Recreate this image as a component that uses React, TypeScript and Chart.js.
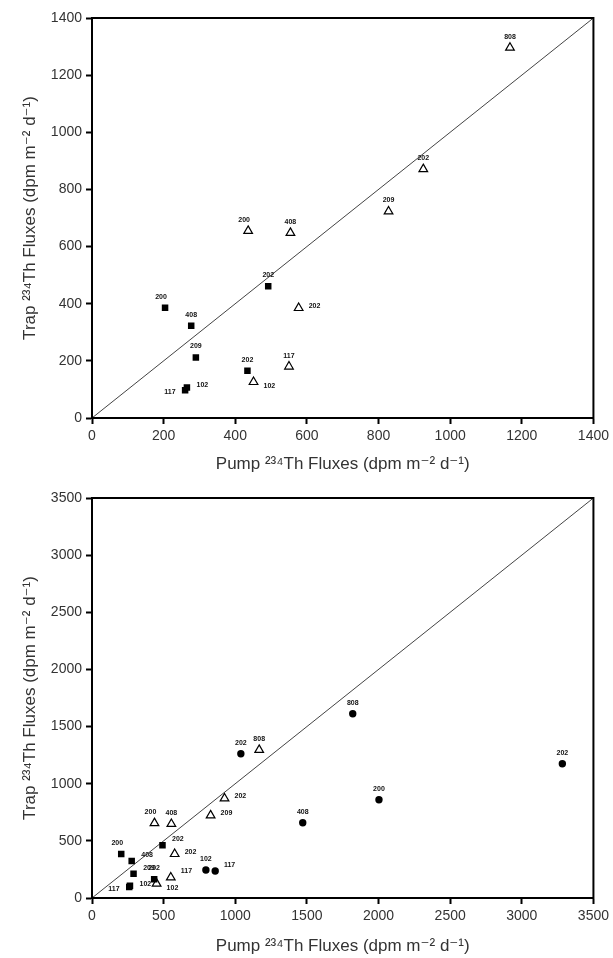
import React, { useEffect, useRef } from "react";
import { Chart, registerables } from "chart.js";
Chart.register(...registerables);

// Pump vs trap 234Th fluxes (dpm m-2 d-1)
const squarePump = [204, 277, 290, 265, 260, 492, 434];
const squareTrap = [386, 323, 212, 107, 97, 461, 165];
const squareLabels = ["200", "408", "209", "102", "117", "202", "202"];

const trianglePump = [436, 554, 577, 550, 451, 1167, 925, 828];
const triangleTrap = [655, 648, 385, 180, 126, 1296, 871, 723];
const triangleLabels = ["200", "408", "202", "117", "102", "808", "202", "209"];

const circlePump = [1039, 1820, 1471, 2003, 3283, 795, 860];
const circleTrap = [1262, 1612, 659, 860, 1175, 245, 236];
const circleLabels = ["202", "808", "408", "200", "202", "102", "117"];

const topMax = 1400;
const topStep = 200;
const bottomMax = 3500;
const bottomStep = 500;

// label anchor codes
const topSquarePos = ["TL", "T", "T", "R", "L", "T", "T"];
const topTrianglePos = ["TL", "T", "R", "T", "BR", "T", "T", "T"];
const bottomSquarePos = ["TL", "TR", "TR", "R", "L", "TR", "T"];
const bottomTrianglePos = ["TL", "T", "R", "TR", "BR", "T", "R", "R"];
const bottomCirclePos = ["T", "T", "T", "T", "T", "T", "TR"];

const xTitle = "Pump ²³⁴Th Fluxes (dpm m⁻² d⁻¹)";
const yTitle = "Trap ²³⁴Th Fluxes (dpm m⁻² d⁻¹)";

const FONT = "'Liberation Sans', Arial, 'DejaVu Sans', sans-serif";

const OFFS: Record<string, [number, number, CanvasTextAlign]> = {
  T: [0, -11, "center"],
  TL: [-4, -11, "center"],
  TR: [5, -6, "left"],
  R: [5, -2, "left"],
  L: [-5, 2, "right"],
  BR: [5, 4, "left"],
};

const framePlugin = {
  id: "frame",
  afterDraw(chart: any) {
    const { ctx, chartArea: a } = chart;
    ctx.save();
    ctx.strokeStyle = "#000";
    ctx.lineWidth = 2;
    ctx.strokeRect(a.left, a.top, a.right - a.left, a.bottom - a.top);
    ctx.restore();
  },
};

const labelPlugin = {
  id: "ptlabels",
  afterDatasetsDraw(chart: any) {
    const { ctx } = chart;
    ctx.save();
    ctx.fillStyle = "#111";
    ctx.font = `bold 7px ${FONT}`;
    ctx.textBaseline = "middle";
    chart.data.datasets.forEach((ds: any, i: number) => {
      if (!ds.ptLabels) return;
      const meta = chart.getDatasetMeta(i);
      meta.data.forEach((el: any, j: number) => {
        const o = OFFS[ds.ptPos[j]] || OFFS.T;
        const r = ds.pointRadius;
        let dx = o[0];
        if (o[2] === "left") dx += r;
        if (o[2] === "right") dx -= r;
        ctx.textAlign = o[2];
        ctx.fillText(ds.ptLabels[j], el.x + dx, el.y + o[1]);
      });
    });
    ctx.restore();
  },
};

function pts(xs: number[], ys: number[]) {
  return xs.map((x, i) => ({ x, y: ys[i] }));
}

const plain = (v: any) => String(v);

function makeConfig(max: number, step: number, height: number, datasets: any[], xTitlePad: number) {
  return {
    type: "scatter",
    data: {
      datasets: [
        ...datasets,
        {
          data: [
            { x: 0, y: 0 },
            { x: max, y: max },
          ],
          showLine: true,
          borderColor: "#444",
          borderWidth: 1,
          pointRadius: 0,
        },
      ],
    },
    options: {
      responsive: false,
      animation: false,
      events: [],
      layout: { padding: { top: 18, right: 19, left: 0, bottom: 0 } },
      plugins: { legend: { display: false }, tooltip: { enabled: false } },
      scales: {
        x: {
          type: "linear",
          min: 0,
          max,
          afterFit: (s: any) => {
            s.height = height - 418;
          },
          ticks: {
            stepSize: step,
            maxRotation: 0,
            autoSkip: false,
            padding: 4,
            color: "#333",
            font: { family: FONT, size: 14 },
            callback: plain,
          },
          grid: {
            drawOnChartArea: false,
            drawTicks: true,
            tickLength: 6,
            tickWidth: 2,
            color: "#000",
          },
          border: { display: true, width: 2, color: "#000" },
          title: {
            display: true,
            text: xTitle,
            color: "#333",
            font: { family: FONT, size: 17 },
            padding: { top: 0, bottom: xTitlePad },
          },
        },
        y: {
          type: "linear",
          min: 0,
          max,
          afterFit: (s: any) => {
            s.width = 92;
          },
          ticks: {
            stepSize: step,
            autoSkip: false,
            padding: 4,
            color: "#333",
            font: { family: FONT, size: 14 },
            callback: plain,
          },
          grid: {
            drawOnChartArea: false,
            drawTicks: true,
            tickLength: 6,
            tickWidth: 2,
            color: "#000",
          },
          border: { display: true, width: 2, color: "#000" },
          title: {
            display: true,
            text: yTitle,
            color: "#333",
            font: { family: FONT, size: 17 },
            padding: { top: 20, bottom: 0 },
          },
        },
      },
    },
    plugins: [framePlugin, labelPlugin],
  };
}

function squareSet(pos: string[]) {
  return {
    data: pts(squarePump, squareTrap),
    pointStyle: "rect",
    pointRadius: 4.6,
    backgroundColor: "#000",
    borderColor: "#000",
    borderWidth: 0,
    ptLabels: squareLabels,
    ptPos: pos,
  };
}
function triangleSet(pos: string[]) {
  return {
    data: pts(trianglePump, triangleTrap),
    pointStyle: "triangle",
    pointRadius: 5,
    backgroundColor: "#fff",
    borderColor: "#000",
    borderWidth: 1.2,
    ptLabels: triangleLabels,
    ptPos: pos,
  };
}
function circleSet(pos: string[]) {
  return {
    data: pts(circlePump, circleTrap),
    pointStyle: "circle",
    pointRadius: 3.7,
    backgroundColor: "#000",
    borderColor: "#000",
    borderWidth: 0,
    ptLabels: circleLabels,
    ptPos: pos,
  };
}

function Panel({ config, height, top }: { config: any; height: number; top: number }) {
  const ref = useRef<HTMLCanvasElement>(null);
  useEffect(() => {
    if (!ref.current) return;
    const c = new Chart(ref.current, config);
    return () => c.destroy();
  }, []);
  return (
    <canvas
      ref={ref}
      width={613}
      height={height}
      style={{ position: "absolute", left: 0, top, width: 613, height, display: "block" }}
    />
  );
}

export default function App() {
  const topCfg = makeConfig(topMax, topStep, 480, [squareSet(topSquarePos), triangleSet(topTrianglePos)], 5);
  const botCfg = makeConfig(
    bottomMax,
    bottomStep,
    478,
    [circleSet(bottomCirclePos), squareSet(bottomSquarePos), triangleSet(bottomTrianglePos)],
    1
  );
  return (
    <div
      style={{
        position: "absolute",
        left: 0,
        top: 0,
        width: 613,
        height: 958,
        overflow: "hidden",
        background: "#fff",
      }}
    >
      <Panel config={topCfg} height={480} top={0} />
      <Panel config={botCfg} height={478} top={480} />
    </div>
  );
}
